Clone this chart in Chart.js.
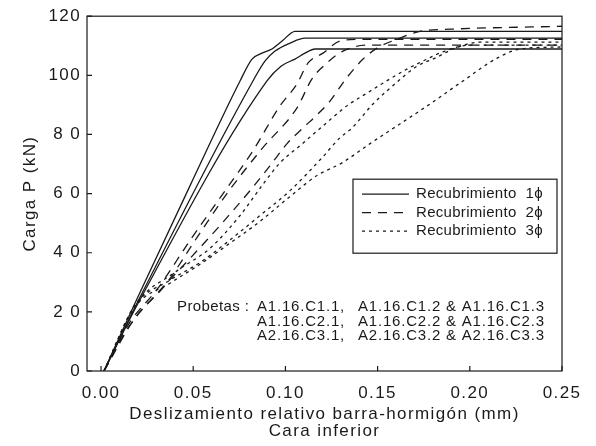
<!DOCTYPE html>
<html>
<head>
<meta charset="utf-8">
<script src="https://cdn.jsdelivr.net/npm/chart.js@4.4.1/dist/chart.umd.min.js"></script>
<style>
    html, body { margin: 0; padding: 0; background: #fff; }
    #wrap { width: 596px; height: 446px; }
</style>
</head>
<body>
<div id="wrap"><canvas id="slipChart" width="596" height="446"></canvas></div>
<script>
// Carga P (kN) vs deslizamiento (mm), cara inferior

// Recubrimiento 1 phi
const s1X = [0.0016, 0.0184, 0.0483, 0.0754, 0.0819, 0.0873, 0.0927, 0.0982, 0.1052, 0.25];
const s1Y = [0, 22.9, 62.7, 98.1, 105.5, 107.5, 108.9, 111.6, 114.9, 114.9];
const s2X = [0.0016, 0.0195, 0.0824, 0.0889, 0.0944, 0.1025, 0.1106, 0.25];
const s2Y = [0, 22.9, 98.1, 104.8, 108.2, 110.9, 112.6, 112.6];
const s3X = [0.0016, 0.0201, 0.0900, 0.0976, 0.1052, 0.1106, 0.1161, 0.25];
const s3Y = [0, 22.9, 98.1, 103.1, 105.5, 107.5, 108.9, 108.9];

// Recubrimiento 2 phi
const d1X = [0.0016, 0.0157, 0.0309, 0.0483, 0.0662, 0.0824, 0.0971, 0.1063, 0.1123, 0.1204, 0.1296, 0.1405, 0.25];
const d1Y = [0, 16.5, 28.0, 44.2, 60.0, 74.5, 89.7, 97.1, 104.2, 107.5, 111.6, 112.2, 112.2];
const d2X = [0.0016, 0.0184, 0.0347, 0.0521, 0.0683, 0.0873, 0.1063, 0.1144, 0.1226, 0.1312, 0.1443, 0.25];
const d2Y = [0, 17.9, 29.0, 45.2, 60.0, 75.2, 89.0, 98.8, 104.2, 108.2, 110.2, 110.2];
const d3X = [0.0016, 0.0157, 0.0320, 0.0483, 0.0645, 0.0808, 0.0916, 0.1009, 0.1095, 0.1166, 0.1242, 0.1323, 0.1421, 0.1497, 0.1605, 0.1730, 0.1893, 0.25];
const d3Y = [0, 15.5, 27.3, 38.1, 49.2, 61.0, 69.4, 76.9, 82.2, 86.3, 91.3, 98.4, 105.5, 109.2, 112.2, 114.9, 115.6, 116.6];

// Recubrimiento 3 phi
const t1X = [0.0016, 0.0184, 0.0401, 0.0591, 0.0754, 0.0873, 0.0971, 0.1079, 0.1204, 0.1334, 0.1443, 0.1567, 0.1659, 0.1768, 0.1865, 0.2001, 0.25];
const t1Y = [0, 22.2, 33.4, 41.5, 52.6, 62.7, 70.4, 76.2, 82.9, 89.7, 94.0, 98.8, 102.1, 105.5, 108.2, 110.2, 110.2];
const t2X = [0.0016, 0.0184, 0.0374, 0.0537, 0.0683, 0.0862, 0.1025, 0.1198, 0.1296, 0.1361, 0.1475, 0.1594, 0.1714, 0.1811, 0.1920, 0.2055, 0.25];
const t2Y = [0, 22.2, 30.7, 36.7, 43.5, 52.6, 61.0, 72.1, 78.9, 82.2, 90.3, 97.1, 103.1, 105.8, 109.2, 111.2, 111.2];
const t3X = [0.0016, 0.0184, 0.0374, 0.0537, 0.0683, 0.0862, 0.1025, 0.1171, 0.1307, 0.1459, 0.1605, 0.1784, 0.1963, 0.2148, 0.2272, 0.25];
const t3Y = [0, 21.6, 29.7, 36.1, 42.5, 50.6, 59.0, 66.1, 70.4, 76.9, 82.9, 90.3, 98.1, 105.8, 108.9, 109.6];

const xTickValues = [0, 0.05, 0.10, 0.15, 0.20, 0.25];
const xTickLabels = ['0.00', '0.05', '0.10', '0.15', '0.20', '0.25'];
const yTickValues = [0, 20, 40, 60, 80, 100, 120];
const yTickLabels = ['0', '2 0', '4 0', '6 0', '8 0', '100', '120'];

const legendLabels = ['Recubrimiento  1\u03d5', 'Recubrimiento  2\u03d5', 'Recubrimiento  3\u03d5'];
const probetasLabel = 'Probetas :';
const specimenRows = [
    ['A1.16.C1.1,', 'A1.16.C1.2 & A1.16.C1.3'],
    ['A1.16.C2.1,', 'A1.16.C2.2 & A1.16.C2.3'],
    ['A2.16.C3.1,', 'A2.16.C3.2 & A2.16.C3.3']
];

const INK = '#1a1a1a';
const FONT = '"Liberation Sans", Arial, sans-serif';
const AXIS_SPACING = '1.4px';
const dashStyles = [[], [9, 7], [3, 4]];

function toPoints(xs, ys) {
    return xs.map((x, i) => ({ x: x, y: ys[i] }));
}

function curve(xs, ys, group) {
    return {
        data: toPoints(xs, ys),
        borderColor: INK,
        borderWidth: 1.3,
        borderDash: dashStyles[group],
        pointRadius: 0,
        fill: false,
        cubicInterpolationMode: 'monotone'
    };
}

const datasets = [
    curve(s1X, s1Y, 0), curve(s2X, s2Y, 0), curve(s3X, s3Y, 0),
    curve(d1X, d1Y, 1), curve(d2X, d2Y, 1), curve(d3X, d3Y, 1),
    curve(t1X, t1Y, 2), curve(t2X, t2Y, 2), curve(t3X, t3Y, 2)
];

// the scanned figure uses wide-tracked lettering on the axes
const spacingPlugin = {
    id: 'spacing',
    beforeUpdate(chart) { chart.ctx.letterSpacing = AXIS_SPACING; },
    beforeDraw(chart) { chart.ctx.letterSpacing = AXIS_SPACING; }
};

// frame, inward ticks, legend box and specimen note
const decorPlugin = {
    id: 'decor',
    afterDatasetsDraw(chart) {
        const { ctx, chartArea: a, scales } = chart;
        ctx.save();
        ctx.strokeStyle = INK;
        ctx.lineWidth = 1.2;
        ctx.setLineDash([]);
        ctx.strokeRect(a.left, a.top, a.right - a.left, a.bottom - a.top);

        ctx.beginPath();
        xTickValues.forEach(v => {
            const px = scales.x.getPixelForValue(v);
            ctx.moveTo(px, a.bottom);
            ctx.lineTo(px, a.bottom - 5);
        });
        yTickValues.forEach(v => {
            const py = scales.y.getPixelForValue(v);
            ctx.moveTo(a.left, py);
            ctx.lineTo(a.left + 5, py);
        });
        ctx.stroke();

        // legend
        const lx = a.right - 209, ly = a.top + 163;
        ctx.lineWidth = 1.2;
        ctx.strokeRect(lx, ly, 204, 74);
        ctx.font = '15px ' + FONT;
        ctx.letterSpacing = '0.3px';
        ctx.fillStyle = INK;
        ctx.textBaseline = 'middle';
        legendLabels.forEach((label, i) => {
            const ry = ly + 15 + i * 18.5;
            ctx.setLineDash(dashStyles[i]);
            ctx.lineWidth = 1.3;
            ctx.beginPath();
            ctx.moveTo(lx + 9, ry);
            ctx.lineTo(lx + 56, ry);
            ctx.stroke();
            ctx.setLineDash([]);
            ctx.fillText(label, lx + 63, ry);
        });

        // specimen note
        ctx.font = '15px ' + FONT;
        ctx.letterSpacing = '0.4px';
        ctx.fillText(probetasLabel, a.left + 90, a.top + 291);
        ctx.letterSpacing = '0.8px';
        specimenRows.forEach((row, i) => {
            const ry = a.top + 291 + i * 14.5;
            ctx.fillText(row[0], a.left + 170, ry);
            ctx.fillText(row[1], a.left + 271, ry);
        });
        ctx.restore();
    }
};

new Chart(document.getElementById('slipChart'), {
    type: 'line',
    data: { datasets: datasets },
    options: {
        responsive: false,
        animation: false,
        events: [],
        layout: { padding: { left: 0, top: 15, right: 34, bottom: 0 } },
        plugins: {
            legend: { display: false },
            tooltip: { enabled: false }
        },
        scales: {
            x: {
                type: 'linear',
                min: -0.0076,
                max: 0.25,
                afterBuildTicks: scale => { scale.ticks = xTickValues.map(v => ({ value: v })); },
                afterFit: scale => { scale.height = 75; },
                grid: { display: false, drawTicks: false },
                border: { display: false },
                ticks: {
                    padding: 12,
                    color: INK,
                    font: { family: FONT, size: 17 },
                    maxRotation: 0,
                    callback: (value, index) => xTickLabels[index]
                },
                title: {
                    display: true,
                    text: ['Deslizamiento relativo barra-hormig\u00f3n (mm)', 'Cara inferior'],
                    color: INK,
                    font: { family: FONT, size: 17, lineHeight: 1.0 },
                    padding: { top: 2, bottom: 6 }
                }
            },
            y: {
                type: 'linear',
                min: 0,
                max: 120,
                afterBuildTicks: scale => { scale.ticks = yTickValues.map(v => ({ value: v })); },
                afterFit: scale => { scale.width = 87; },
                grid: { display: false, drawTicks: false },
                border: { display: false },
                ticks: {
                    padding: 6,
                    color: INK,
                    font: { family: FONT, size: 17 },
                    callback: (value, index) => yTickLabels[index]
                },
                title: {
                    display: true,
                    text: 'Carga P (kN)',
                    color: INK,
                    font: { family: FONT, size: 17 },
                    padding: { top: 20, bottom: 0 }
                }
            }
        }
    },
    plugins: [spacingPlugin, decorPlugin]
});
</script>
</body>
</html>
